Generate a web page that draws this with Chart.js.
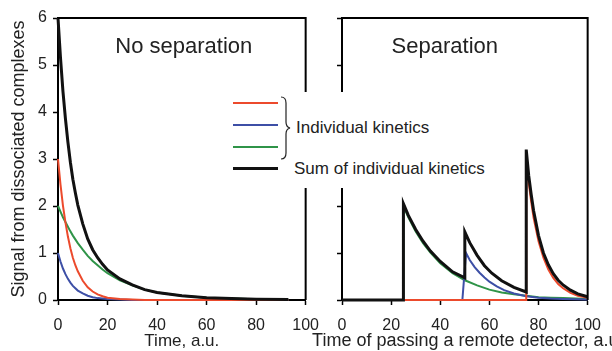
<!DOCTYPE html>
<html>
<head>
<meta charset="utf-8">
<script src="https://cdn.jsdelivr.net/npm/chart.js@4.4.1/dist/chart.umd.min.js"></script>
<style>
  body { margin: 0; background: #fff; width: 612px; height: 351px; overflow: hidden; position: relative; font-family: "Liberation Sans", Arial, sans-serif; }
  canvas { position: absolute; top: 0; }
  #c1 { left: 0; }
  #c2 { left: 290px; }
  .legend { position: absolute; left: 226px; top: 92px; width: 290px; height: 96px; background: #fff; }
  .swatch { position: absolute; left: 7px; width: 45px; height: 2px; }
  .legend span { position: absolute; font-size: 17px; color: #222; white-space: nowrap; line-height: 20px; }
</style>
</head>
<body>
<canvas id="c1" width="330" height="351"></canvas>
<canvas id="c2" width="322" height="351"></canvas>
<div class="legend">
  <div class="swatch" style="top:10px;background:#ec4a2c"></div>
  <div class="swatch" style="top:32px;background:#3d4fa6"></div>
  <div class="swatch" style="top:54px;background:#2f9448"></div>
  <div class="swatch" style="top:75px;height:3px;background:#111"></div>
  <svg style="position:absolute;left:52px;top:0" width="16" height="72">
    <path d="M3 5 Q8 5 8 11 L8 30 Q8 35 12 36 Q8 37 8 42 L8 61 Q8 67 3 67" fill="none" stroke="#222" stroke-width="1.2"/>
  </svg>
  <span style="left:70px;top:26px">Individual kinetics</span>
  <span style="left:68px;top:67px">Sum of individual kinetics</span>
</div>
<script>
// left panel: no separation
const leftTime = [0, 1, 2, 3, 4, 5, 6, 7, 8, 10, 12, 14, 16, 18, 20, 25, 30, 35, 40, 50, 60, 70, 80, 93];
const leftRed = [3.0, 2.46, 2.01, 1.65, 1.35, 1.10, 0.90, 0.74, 0.61, 0.41, 0.27, 0.18, 0.12, 0.08, 0.05, 0.02, 0.01, 0, 0, 0, 0, 0, 0, 0];
const leftBlue = [1.0, 0.82, 0.67, 0.55, 0.45, 0.37, 0.30, 0.25, 0.20, 0.14, 0.09, 0.06, 0.04, 0.03, 0.02, 0.01, 0, 0, 0, 0, 0, 0, 0, 0];
const leftGreen = [2.0, 1.88, 1.76, 1.66, 1.56, 1.46, 1.37, 1.29, 1.21, 1.07, 0.94, 0.83, 0.74, 0.65, 0.57, 0.42, 0.31, 0.22, 0.16, 0.09, 0.05, 0.03, 0.015, 0.01];
const leftSum = [6.0, 5.16, 4.44, 3.86, 3.36, 2.93, 2.57, 2.28, 2.02, 1.62, 1.30, 1.07, 0.90, 0.76, 0.64, 0.45, 0.32, 0.22, 0.16, 0.09, 0.05, 0.03, 0.015, 0.01];

// right panel: separation
const rightSumTime = [0, 25, 25, 27, 30, 33, 36, 40, 45, 50, 50, 52, 55, 58, 61, 65, 70, 75, 75, 76, 77, 78, 80, 82, 84, 86, 88, 90, 93, 96, 100];
const rightSum = [0, 0, 2.05, 1.80, 1.50, 1.25, 1.04, 0.82, 0.60, 0.47, 1.45, 1.22, 0.95, 0.73, 0.57, 0.41, 0.27, 0.17, 3.2, 2.65, 2.25, 1.90, 1.37, 1.0, 0.75, 0.56, 0.42, 0.32, 0.21, 0.13, 0.07];
const rightGreenTime = [25, 25, 27, 30, 33, 36, 40, 45, 50, 55, 60, 65, 70, 75, 80, 85, 90, 95, 100];
const rightGreen = [0, 2.0, 1.76, 1.46, 1.21, 1.01, 0.78, 0.57, 0.42, 0.31, 0.22, 0.16, 0.12, 0.09, 0.06, 0.05, 0.04, 0.03, 0.02];
const rightBlueTime = [49, 50.5, 52, 54, 56, 58, 60, 63, 66, 70, 75, 80, 85, 90, 95, 100];
const rightBlue = [0, 1.0, 0.85, 0.7, 0.58, 0.48, 0.39, 0.29, 0.21, 0.14, 0.08, 0.05, 0.03, 0.02, 0.015, 0.01];
const rightRedTime = [25, 75, 75, 76, 77, 78, 80, 82, 84, 86, 88, 90, 93, 96, 100];
const rightRed = [0, 0, 3.05, 2.5, 2.1, 1.75, 1.25, 0.9, 0.65, 0.47, 0.34, 0.25, 0.15, 0.09, 0.05];

const xTicks = [0, 20, 40, 60, 80, 100];
const yTicks = [0, 1, 2, 3, 4, 5, 6];

const RED = '#ec4a2c', BLUE = '#3d4fa6', GREEN = '#2f9448', BLACK = '#111';
const FONT = '"Liberation Sans", Arial, sans-serif';
Chart.defaults.font.family = FONT;
Chart.defaults.color = '#222';

const pts = (t, v) => t.map((x, i) => ({ x: x, y: v[i] }));
const line = (data, color, w) => ({
  data: data, borderColor: color, borderWidth: w, pointRadius: 0, tension: 0, fill: false, clip: false
});

// top and right edge of the box, panel label and x title
const frame = {
  id: 'frame',
  afterDraw(chart, args, opts) {
    const { ctx, chartArea: a } = chart;
    ctx.save();
    ctx.strokeStyle = '#000';
    ctx.lineWidth = 2;
    ctx.beginPath();
    ctx.moveTo(a.left, a.top);
    ctx.lineTo(a.right, a.top);
    ctx.lineTo(a.right, a.bottom);
    ctx.stroke();
    ctx.fillStyle = '#222';
    ctx.textAlign = 'center';
    ctx.textBaseline = 'middle';
    ctx.font = '22px ' + FONT;
    ctx.fillText(opts.label, (a.left + a.right) / 2 + opts.labelShift, a.top + 29);
    ctx.font = opts.xTitleSize + 'px ' + FONT;
    ctx.fillText(opts.xTitle, (a.left + a.right) / 2 + opts.xTitleShift, 341);
    ctx.restore();
  }
};

function makeChart(id, datasets, opt) {
  return new Chart(document.getElementById(id), {
    type: 'line',
    data: { datasets: datasets },
    plugins: [frame],
    options: {
      responsive: false,
      animation: false,
      layout: { padding: { top: 18, right: opt.padRight, left: 0, bottom: 0 } },
      plugins: {
        legend: { display: false }, tooltip: { enabled: false },
        frame: { label: opt.label, labelShift: opt.labelShift, xTitle: opt.xTitle, xTitleSize: opt.xTitleSize, xTitleShift: opt.xTitleShift }
      },
      scales: {
        x: {
          type: 'linear', min: 0, max: 100,
          afterBuildTicks: s => { s.ticks = xTicks.map(v => ({ value: v })); },
          afterFit: s => { s.height = 51; },
          border: { display: true, color: '#000', width: 2 },
          grid: { drawOnChartArea: false, drawTicks: true, tickLength: 5, tickColor: '#000', tickWidth: 1.5 },
          ticks: { font: { size: 16 }, padding: 11, maxRotation: 0, color: '#222' }
        },
        y: {
          type: 'linear', min: 0, max: 6,
          afterBuildTicks: s => { s.ticks = yTicks.map(v => ({ value: v })); },
          afterFit: s => { s.width = opt.yWidth; },
          border: { display: true, color: '#000', width: 2 },
          grid: { drawOnChartArea: false, drawTicks: true, tickLength: 5, tickColor: '#000', tickWidth: 1.5 },
          ticks: { font: { size: 16 }, padding: 6, color: '#222', callback: v => opt.yLabels ? v : '' },
          title: { display: opt.yLabels, text: 'Signal from dissociated complexes', font: { size: 18 }, padding: { top: 8, bottom: 0 }, color: '#222' }
        }
      }
    }
  });
}

makeChart('c1', [
  line(pts(leftTime, leftSum), BLACK, 3),
  line(pts(leftTime, leftRed), RED, 2),
  line(pts(leftTime, leftBlue), BLUE, 2),
  line(pts(leftTime, leftGreen), GREEN, 2)
], { label: 'No separation', labelShift: 2, xTitle: 'Time, a.u.', xTitleSize: 17, xTitleShift: 0, yWidth: 58, padRight: 18, yLabels: true });

makeChart('c2', [
  line(pts(rightSumTime, rightSum), BLACK, 3),
  line(pts(rightRedTime, rightRed), RED, 2),
  line(pts(rightBlueTime, rightBlue), BLUE, 2),
  line(pts(rightGreenTime, rightGreen), GREEN, 2)
], { label: 'Separation', labelShift: -20, xTitle: 'Time of passing a remote detector, a.u.', xTitleSize: 18, xTitleShift: 3, yWidth: 52, padRight: 19, yLabels: false });
</script>
</body>
</html>
